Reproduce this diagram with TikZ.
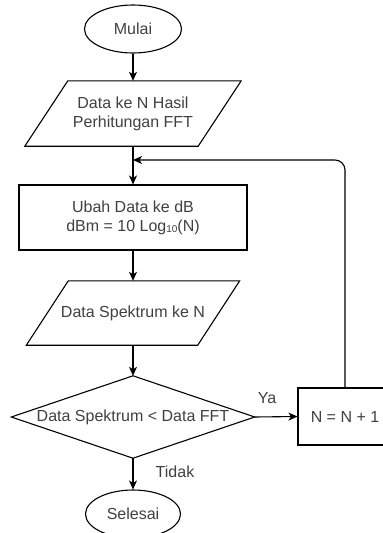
\documentclass[tikz,border=0pt]{standalone}
\usepackage{fontspec}
\setmainfont{Liberation Sans}
\usetikzlibrary{shapes.geometric,arrows.meta}

\definecolor{txt}{HTML}{404040}

\tikzset{
  lbl/.style={font=\fontsize{16}{19}\selectfont, text=txt, align=center, inner sep=0pt},
  outl/.style={draw=black, line width=1.1pt, line join=miter},
  link/.style={draw=black, line width=1.1pt},
  arr/.style={link, -{Stealth[length=9pt, width=8pt, inset=2.5pt]}}
}

\begin{document}
\begin{tikzpicture}[x=1pt, y=-1pt]
  \clip (0,0) rectangle (383,533);

  % terminals
  \node[lbl, ellipse, outl, minimum width=97, minimum height=48] (start) at (133,29) {Mulai};
  \node[lbl, ellipse, outl, minimum width=95, minimum height=48] (stop) at (133,514) {Selesai};

  % input: FFT result
  \node[lbl, minimum width=173, minimum height=65] (in1) at (133,113.5) {Data ke N Hasil\\Perhitungan FFT};
  \draw[outl] ([xshift=21.5]in1.north west) -- ([xshift=21.5]in1.north east)
    -- ([xshift=-21.5]in1.south east) -- ([xshift=-21.5]in1.south west) -- cycle;

  % conversion to dB
  \node[lbl, rectangle, outl, minimum width=228, minimum height=65] (calc) at (133,217.5)
    {Ubah Data ke dB\\dBm = 10 Log{\fontsize{10}{10}\selectfont\raisebox{-1pt}{10}}(N)};

  % spectrum sample
  \node[lbl, minimum width=171, minimum height=64] (in2) at (133,313) {Data Spektrum ke N};
  \draw[outl] ([xshift=21]in2.north west) -- ([xshift=21]in2.north east)
    -- ([xshift=-21]in2.south east) -- ([xshift=-21]in2.south west) -- cycle;

  % decision
  \node[lbl, minimum width=243, minimum height=82] (dec) at (133,417) {Data Spektrum < Data FFT};
  \draw[outl] (dec.north) -- (dec.east) -- (dec.south) -- (dec.west) -- cycle;

  % counter increment
  \node[lbl, rectangle, outl, minimum width=94, minimum height=57] (inc) at (345,416.5) {N = N + 1};

  % branch labels
  \node[lbl] (ya) at (267,398) {Ya};
  \node[lbl] (tidak) at (175,472) {Tidak};

  \coordinate (join) at (133,160);

  % connectors
  \draw[arr] (start.south) -- (in1.north);
  \draw[link] (in1.south) -- (join);
  \draw[arr] (join) -- (calc.north);
  \draw[arr] (calc.south) -- (in2.north);
  \draw[arr] (in2.south) -- (dec.north);
  \draw[arr] (dec.east) -- (inc.west);
  \draw[arr] (dec.south) -- (stop.north);
  \draw[arr, rounded corners=10] (inc.north) |- (join);
\end{tikzpicture}
\end{document}
